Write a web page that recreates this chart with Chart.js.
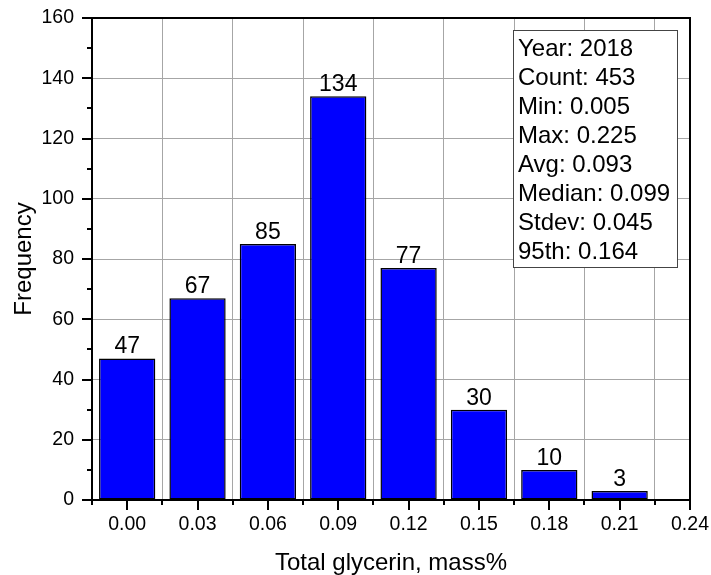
<!DOCTYPE html>
<html>
<head>
<meta charset="utf-8">
<script src="https://cdn.jsdelivr.net/npm/chart.js@4"></script>
<style>
  html, body { margin: 0; padding: 0; background: #fff; }
  canvas { display: block; }
</style>
</head>
<body>
<canvas id="hist" width="711" height="575"></canvas>
<script>
// Histogram of total glycerin (mass%) for 2018 samples
const binCenters = [0.00, 0.03, 0.06, 0.09, 0.12, 0.15, 0.18, 0.21];
const counts = [47, 67, 85, 134, 77, 30, 10, 3];
const xTickValues = [0.00, 0.03, 0.06, 0.09, 0.12, 0.15, 0.18, 0.21, 0.24];
const yTickValues = [0, 20, 40, 60, 80, 100, 120, 140, 160];
const statsLines = [
  'Year: 2018',
  'Count: 453',
  'Min: 0.005',
  'Max: 0.225',
  'Avg: 0.093',
  'Median: 0.099',
  'Stdev: 0.045',
  '95th: 0.164'
];

const FONT = '"Liberation Sans", Arial, Helvetica, sans-serif';

// Minor tick values: midpoints between majors, plus one half-step before the first
function minorValues(majors) {
  const out = [];
  const step = majors[1] - majors[0];
  out.push(majors[0] - step / 2);
  for (let i = 0; i < majors.length - 1; i++) out.push((majors[i] + majors[i + 1]) / 2);
  return out;
}

// Fixed axis band sizes; label overflow is handled by the layout padding
function fixBand(size) {
  return s => {
    if (s.isHorizontal()) s.height = size; else s.width = size;
    s.paddingTop = 0; s.paddingBottom = 0; s.paddingLeft = 0; s.paddingRight = 0;
  };
}

// Frame, outward tick marks, value labels and the statistics box
const decorations = {
  id: 'decorations',
  afterDatasetsDraw(chart) {
    const ctx = chart.ctx;
    const area = chart.chartArea;
    const xs = chart.scales.x, ys = chart.scales.y;

    // value labels above bars
    const meta = chart.getDatasetMeta(0);
    ctx.save();
    ctx.fillStyle = '#000';
    ctx.font = '23px ' + FONT;
    ctx.textAlign = 'center';
    ctx.textBaseline = 'alphabetic';
    meta.data.forEach((bar, i) => {
      ctx.fillText(String(counts[i]), bar.x, bar.y - 5);
    });
    ctx.restore();

    // statistics box
    ctx.save();
    const bx = area.right - 177, by = area.top + 12, bw = 164, bh = 237;
    ctx.fillStyle = '#fff';
    ctx.fillRect(bx, by, bw, bh);
    ctx.strokeStyle = '#444';
    ctx.lineWidth = 1;
    ctx.strokeRect(bx + 0.5, by + 0.5, bw, bh);
    ctx.fillStyle = '#000';
    ctx.font = '24px ' + FONT;
    ctx.textAlign = 'left';
    ctx.textBaseline = 'alphabetic';
    statsLines.forEach((t, i) => ctx.fillText(t, bx + 5, by + 26 + i * 29));
    ctx.restore();

    // plot frame
    ctx.save();
    ctx.strokeStyle = '#000';
    ctx.lineWidth = 2;
    ctx.strokeRect(area.left, area.top, area.right - area.left, area.bottom - area.top);

    // tick marks
    ctx.lineWidth = 2;
    ctx.beginPath();
    xTickValues.forEach(v => {
      const p = Math.round(xs.getPixelForValue(v));
      ctx.moveTo(p, area.bottom); ctx.lineTo(p, area.bottom + 10);
    });
    minorValues(xTickValues).forEach(v => {
      const p = Math.round(xs.getPixelForValue(v));
      ctx.moveTo(p, area.bottom); ctx.lineTo(p, area.bottom + 5);
    });
    yTickValues.forEach(v => {
      const p = Math.round(ys.getPixelForValue(v));
      ctx.moveTo(area.left, p); ctx.lineTo(area.left - 10, p);
    });
    minorValues(yTickValues).filter(v => v >= 0).forEach(v => {
      const p = Math.round(ys.getPixelForValue(v));
      ctx.moveTo(area.left, p); ctx.lineTo(area.left - 5, p);
    });
    ctx.stroke();
    ctx.restore();
  }
};

new Chart(document.getElementById('hist'), {
  type: 'bar',
  data: {
    datasets: [{
      data: binCenters.map((c, i) => ({ x: c, y: counts[i] })),
      backgroundColor: '#0000ff',
      borderColor: '#000',
      borderWidth: 1.5,
      borderSkipped: false,
      categoryPercentage: 1.0,
      barPercentage: 0.8
    }]
  },
  options: {
    responsive: false,
    animation: false,
    devicePixelRatio: 1,
    layout: { padding: { top: 18, right: 21, left: 0, bottom: 0 } },
    plugins: { legend: { display: false }, tooltip: { enabled: false } },
    scales: {
      x: {
        type: 'linear',
        min: -0.015,
        max: 0.24,
        offset: false,
        afterBuildTicks: s => { s.ticks = xTickValues.map(v => ({ value: v })); },
        afterFit: fixBand(75),
        ticks: {
          callback: v => Number(v).toFixed(2),
          color: '#000',
          font: { family: FONT, size: 19.5 },
          padding: 13,
          maxRotation: 0,
          autoSkip: false
        },
        grid: { color: '#a6a6a6', lineWidth: 1, drawTicks: false },
        border: { display: false },
        title: {
          display: true,
          text: 'Total glycerin, mass%',
          color: '#000',
          font: { family: FONT, size: 24, lineHeight: 1 },
          padding: { top: 0, bottom: 0 }
        }
      },
      y: {
        min: 0,
        max: 160,
        afterBuildTicks: s => { s.ticks = yTickValues.map(v => ({ value: v })); },
        afterFit: fixBand(92),
        ticks: {
          color: '#000',
          font: { family: FONT, size: 19.5 },
          padding: 18
        },
        grid: { color: '#a6a6a6', lineWidth: 1, drawTicks: false },
        border: { display: false },
        title: {
          display: true,
          text: 'Frequency',
          color: '#000',
          font: { family: FONT, size: 24, lineHeight: 1 },
          padding: { top: 12, bottom: 0 }
        }
      }
    }
  },
  plugins: [decorations]
});
</script>
</body>
</html>
